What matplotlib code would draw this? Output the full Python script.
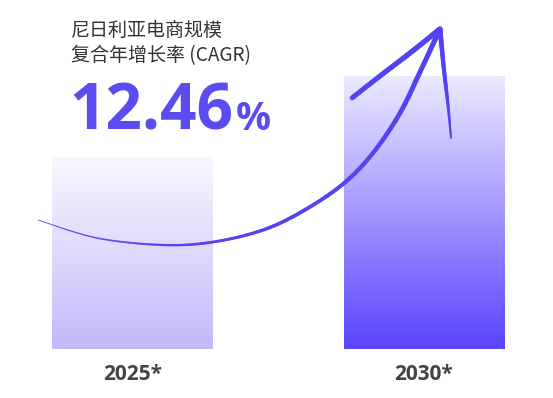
import numpy as np
import matplotlib
matplotlib.use("Agg")
import matplotlib.pyplot as plt
from matplotlib.collections import LineCollection
from matplotlib.colors import LinearSegmentedColormap

plt.rcParams['font.family'] = ['Noto Sans CJK SC', 'DejaVu Sans']

# ---- data ----
categories = ["2025*", "2030*"]
values = [1.0, 1.42]            # relative market size (bar heights)
title_lines = ["尼日利亚电商规模", "复合年增长率 (CAGR)"]
cagr_number = "12.46"
cagr_unit = "%"
bar_top_colors = ["#f9f8ff", "#eceaff"]
bar_bottom_colors = ["#c4b9fa", "#5a43ff"]

# decorative hand-drawn arrow (figure pixel space)
arrow_curve = [(38, 220), (97, 238), (163, 245), (213, 242), (263, 230),
               (303, 211), (343, 184), (373, 153), (400, 113), (420, 72), (439, 31)]
arrow_left = [(352, 98), (380, 76), (410, 53), (440, 29)]
arrow_right = [(440, 29), (444, 70), (448, 105), (451, 138)]

W, H = 553, 398
fig = plt.figure(figsize=(W / 100, H / 100), dpi=100)
fig.patch.set_facecolor("white")

base_px = 349
ax = fig.add_axes([0, (H - base_px) / H, 1, base_px / H])
ax.axis("off")

bar_w = 0.552
x = np.arange(len(categories))
bars = ax.bar(x, values, width=bar_w, color="none", edgecolor="none")
for i, b in enumerate(bars):
    cmap = LinearSegmentedColormap.from_list("g", [bar_bottom_colors[i], bar_top_colors[i]])
    grad = np.linspace(0, 1, 256).reshape(-1, 1)
    im = ax.imshow(grad, cmap=cmap, origin="lower", aspect="auto",
                   extent=[b.get_x(), b.get_x() + b.get_width(), 0, b.get_height()],
                   zorder=1)
    im.set_clip_path(b)

ax.set_xlim(-0.4545, 1.4425)
ax.set_ylim(0, base_px / 192)

for i, c in enumerate(categories):
    fig.text((132.5 + 291.5 * i) / W, 1 - 374 / H, c, ha="center", va="center",
             fontsize=15, fontweight="bold", color="#444444", family="Open Sans")

# title texts
fig.text(71 / W, 1 - 30 / H, title_lines[0], ha="left", va="center",
         fontsize=13.7, color="#333333")
fig.text(71 / W, 1 - 56 / H, title_lines[1], ha="left", va="center",
         fontsize=13.7, color="#333333")
t = fig.text(69 / W, 1 - 130 / H, cagr_number, ha="left", va="baseline",
             fontsize=46, fontweight="bold", color="#5b4cf0", family="Open Sans")
fig.canvas.draw()
bb = t.get_window_extent()
fig.text(bb.x1 / W + 3 / W, 1 - 130 / H, cagr_unit, ha="left", va="baseline",
         fontsize=28, fontweight="bold", color="#5b4cf0", family="Open Sans")

# overlay axes for arrow decoration
ov = fig.add_axes([0, 0, 1, 1])
ov.set_xlim(0, W)
ov.set_ylim(H, 0)
ov.axis("off")


def catmull(pts, n=30):
    p = np.array(pts, dtype=float)
    p = np.vstack([p[0], p, p[-1]])
    out = []
    for i in range(1, len(p) - 2):
        p0, p1, p2, p3 = p[i - 1], p[i], p[i + 1], p[i + 2]
        t = np.linspace(0, 1, n, endpoint=False)[:, None]
        seg = 0.5 * ((2 * p1) + (-p0 + p2) * t + (2 * p0 - 5 * p1 + 4 * p2 - p3) * t ** 2
                     + (-p0 + 3 * p1 - 3 * p2 + p3) * t ** 3)
        out.append(seg)
    out.append(p[-2][None, :])
    return np.vstack(out)


def stroke(pts, w_profile, color="#5443f2", alpha=0.88):
    c = catmull(pts)
    segs = np.stack([c[:-1], c[1:]], axis=1)
    s = np.linspace(0, 1, len(segs))
    widths = np.interp(s, np.linspace(0, 1, len(w_profile)), w_profile)
    lc = LineCollection(segs, linewidths=widths, colors=color, alpha=alpha,
                        capstyle="round", zorder=5)
    ov.add_collection(lc)


stroke(arrow_curve, [0.5, 1.6, 2.4, 2.8, 3.3, 3.6])
stroke(arrow_left, [3.4, 3.6, 3.8])
stroke(arrow_right, [3.6, 2.6, 1.2])

fig.savefig("out.png", dpi=100, facecolor="white")
